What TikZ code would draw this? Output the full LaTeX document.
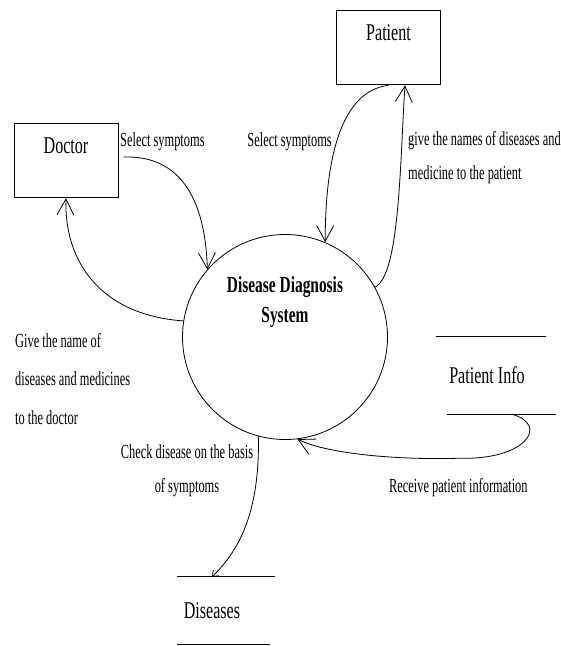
\documentclass[tikz,border=0pt]{standalone}
\usepackage{fontspec}
\setmainfont{Liberation Serif}[FakeStretch=0.67]
\newfontfamily\labelfont{Liberation Serif}[FakeStretch=0.62]
\usetikzlibrary{arrows.meta}

\begin{document}
\begin{tikzpicture}[x=1pt, y=-1pt,
      entity/.style={draw, line width=1pt, minimum width=104pt, inner sep=0pt,
         text height=30pt, text depth=44.5pt, font=\fontsize{24}{29}\selectfont},
      store/.style={inner sep=0pt, font=\fontsize{24}{29}\selectfont},
      storeline/.style={line width=1.1pt},
      lab/.style={inner sep=0pt, font=\labelfont\fontsize{20}{34}\selectfont},
      flow/.style={line width=0.8pt, -{Straight Barb[length=16pt, width=17pt]}}]
      \useasboundingbox (0,0) rectangle (561,646);

      \node (doctor) at (66,160.5) [entity] {Doctor};
      \node (patient) at (388.5,47.5) [entity] {Patient};
      \node (dds) at (285,337) [circle, draw, line width=0.8pt, minimum size=205pt,
         inner sep=0pt, label={[yshift=35pt, align=center,
         font=\bfseries\fontsize{23}{30.4}\selectfont]center:Disease Diagnosis\\System}] {};
      \node (pinfo) at (487,375.5) [store, minimum height=77pt] {Patient Info};
      \node (dis) at (212,610.5) [store, minimum height=67pt] {Diseases};

      % data store lines
      \draw [storeline] ([xshift=-51pt]pinfo.north) -- ([xshift=59pt]pinfo.north);
      \draw [storeline] ([xshift=-40pt]pinfo.south) -- ([xshift=69pt]pinfo.south);
      \draw [storeline] ([xshift=-35pt]dis.north) -- ([xshift=63pt]dis.north);
      \draw [storeline] ([xshift=-35pt]dis.south) -- ([xshift=58pt]dis.south);

      % flows
      \draw [flow] ([xshift=5pt, yshift=3.5pt]doctor.east)
         .. controls +(57,-2) and +(-2,-70) .. (dds.139);
      \draw [flow] (dds.171) .. controls +(-84,-6) and +(-2,62) .. (doctor.south);
      \draw [flow] (patient.south) .. controls +(-48,6) and +(0,-83) .. (dds.67);
      \draw [flow] (dds.29) .. controls +(25,-12) and +(-5,75) .. ([xshift=16.5pt]patient.south);
      \draw [line width=0.8pt, -{Straight Barb[length=5pt, width=8pt]}] (dds.255)
         .. controls +(1.5,74) and +(28,-27) .. (dis.north);
      \draw [flow] ([xshift=25pt]pinfo.south) .. controls +(38,11) and +(65,2) .. ++(-52,44)
         .. controls +(-60,2) and +(30,15) .. (dds.277);

      % labels (base = last line)
      \node (selD) at (120,146) [lab, anchor=base west] {Select symptoms};
      \node (selP) at (332,146) [lab, anchor=base east] {Select symptoms};
      \node (giveP) at (408,179) [lab, anchor=base west, align=left]
         {give the names of diseases and\\medicine to the patient};
      \node (giveD) at (15,424) [lab, anchor=base west, align=left,
         font=\labelfont\fontsize{20}{38.5}\selectfont]
         {Give the name of\\diseases and medicines\\to the doctor};
      \node (check) at (187,492) [lab, anchor=base, align=center]
         {Check disease on the basis\\of symptoms};
      \node (recv) at (389,492) [lab, anchor=base west] {Receive patient information};
   \end{tikzpicture}
\end{document}
